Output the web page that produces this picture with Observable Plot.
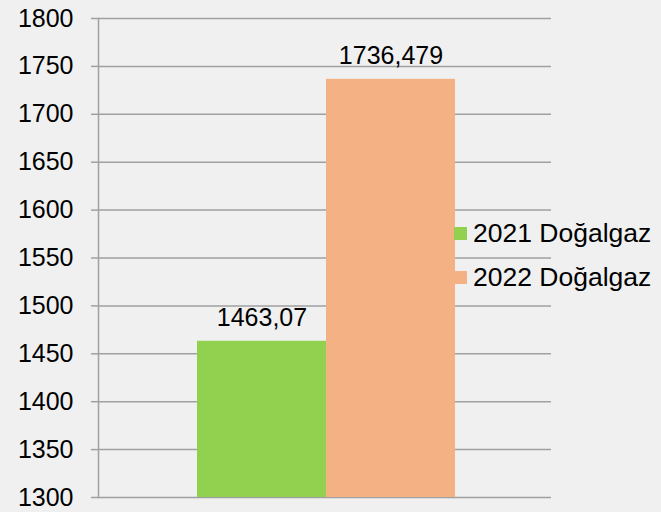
<!DOCTYPE html>
<html>
<head>
<meta charset="utf-8">
<script src="https://cdn.jsdelivr.net/npm/d3@7"></script>
<script src="https://cdn.jsdelivr.net/npm/@observablehq/plot@0.6"></script>
<style>
  html, body { margin: 0; padding: 0; background: #f0f0f0; }
  #wrap { position: relative; width: 661px; height: 512px; background: #f0f0f0; font-family: "Liberation Sans", Arial, sans-serif; }
  #legend { position: absolute; left: 454px; top: 211px; font-size: 26.5px; color: #000; }
  #legend .item { display: flex; align-items: center; height: 44px; white-space: nowrap; }
  #legend .sw { width: 13px; height: 13px; margin-right: 6px; }
</style>
</head>
<body>
<div id="wrap"></div>
<script>
const series = ["2021 Doğalgaz", "2022 Doğalgaz"];
const values = [1463.07, 1736.479];
const valueLabels = ["1463,07", "1736,479"];
const colors = ["#92d050", "#f4b183"];
const yTicks = [1300, 1350, 1400, 1450, 1500, 1550, 1600, 1650, 1700, 1750, 1800];
const yDomain = [1300, 1800];

const data = series.map((s, i) => ({series: s, value: values[i], label: valueLabels[i]}));

const chart = Plot.plot({
  width: 661,
  height: 512,
  marginLeft: 98,
  marginRight: 110,
  marginTop: 18,
  marginBottom: 15,
  style: {background: "#f0f0f0", fontFamily: "Liberation Sans, Arial, sans-serif", fontSize: "25px", color: "#000"},
  x: {domain: series, range: [196.5, 456], padding: 0, axis: null},
  y: {domain: yDomain, ticks: yTicks, tickSize: 0, label: null, tickFormat: d => String(d)},
  color: {domain: series, range: colors},
  marks: [
    Plot.ruleY(yTicks, {stroke: "#a0a0a0", strokeWidth: 1.5}),
    Plot.frame({anchor: "left", stroke: "#a0a0a0", strokeWidth: 1.5}),
    Plot.axisY({ticks: yTicks, tickSize: 7, tickPadding: 18, label: null, stroke: "#a0a0a0", strokeWidth: 1.5, fontSize: 25, fill: "#000", tickFormat: d => String(d)}),
    Plot.barY(data, {x: "series", y1: yDomain[0], y2: "value", fill: "series"}),
    Plot.text(data, {x: "series", y: "value", text: "label", dy: -23, fontSize: 25, fill: "#000"})
  ]
});
document.getElementById("wrap").appendChild(chart);

const legend = document.createElement("div");
legend.id = "legend";
series.forEach((s, i) => {
  const item = document.createElement("div");
  item.className = "item";
  const sw = document.createElement("span");
  sw.className = "sw";
  sw.style.background = colors[i];
  const t = document.createElement("span");
  t.textContent = s;
  item.appendChild(sw);
  item.appendChild(t);
  legend.appendChild(item);
});
document.getElementById("wrap").appendChild(legend);
</script>
</body>
</html>
